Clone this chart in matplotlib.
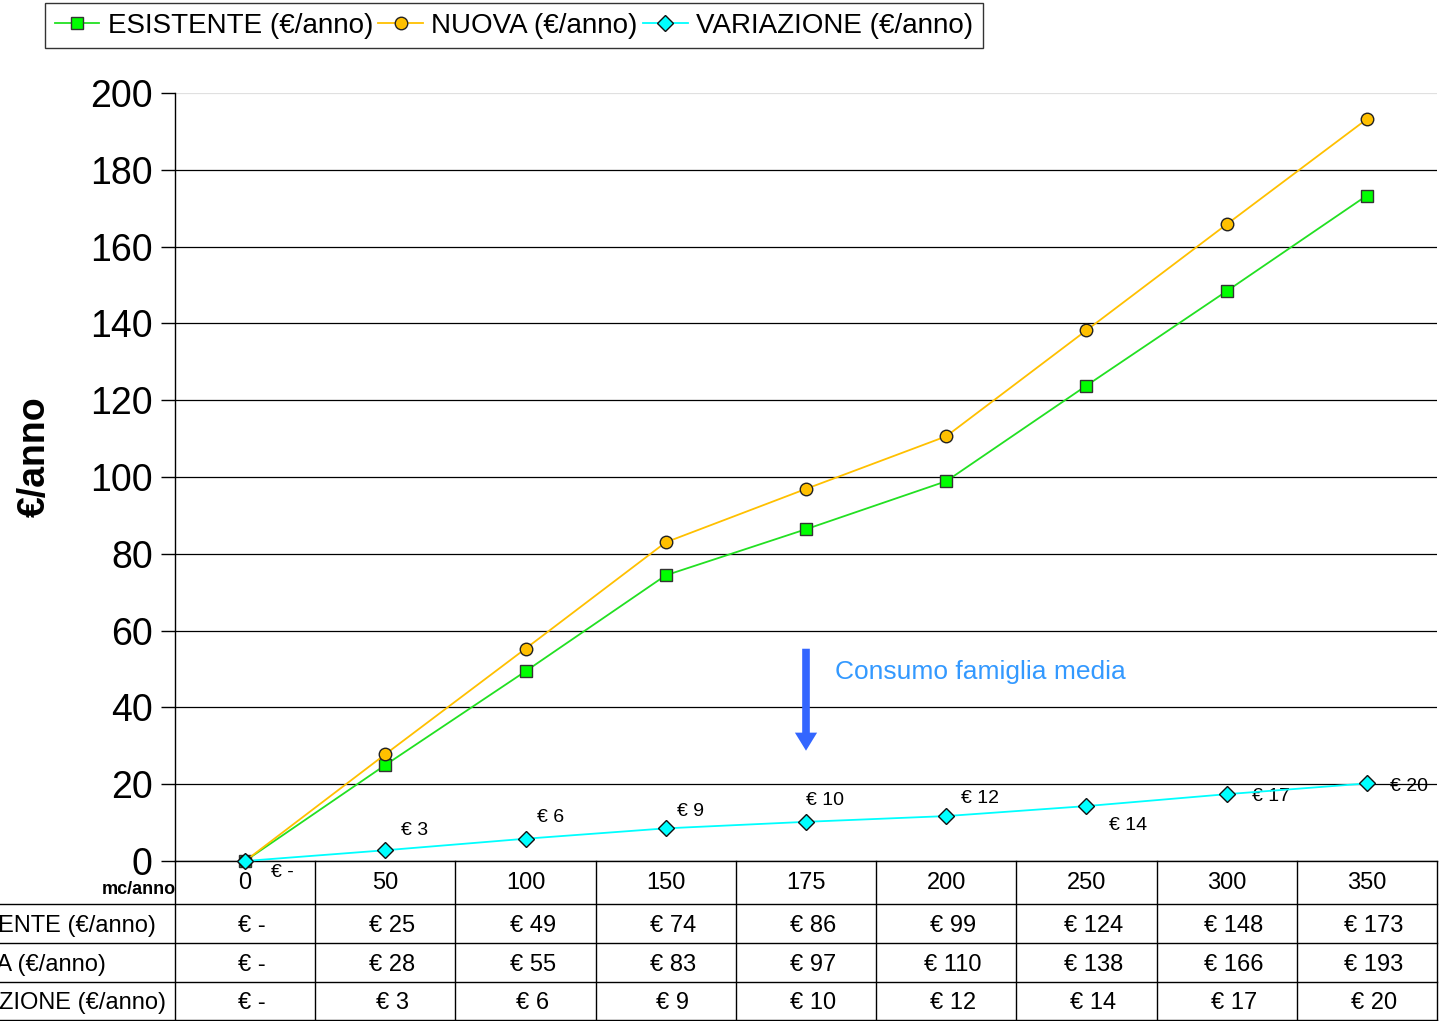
import matplotlib
matplotlib.use("Agg")
import matplotlib.pyplot as plt
from matplotlib.lines import Line2D

plt.rcParams['font.family'] = ['Liberation Sans', 'DejaVu Sans']

categories = ['0', '50', '100', '150', '175', '200', '250', '300', '350']
esistente = [0, 25.0, 49.4, 74.4, 86.4, 98.9, 123.8, 148.4, 173.3]
nuova = [0, 27.8, 55.3, 83.0, 96.9, 110.6, 138.2, 165.8, 193.2]
variazione = [0, 2.8, 5.8, 8.5, 10.2, 11.7, 14.3, 17.4, 20.2]
esistente_lbl = ['€ -', '€ 25', '€ 49', '€ 74', '€ 86', '€ 99', '€ 124', '€ 148', '€ 173']
nuova_lbl = ['€ -', '€ 28', '€ 55', '€ 83', '€ 97', '€ 110', '€ 138', '€ 166', '€ 193']
variazione_lbl = ['€ -', '€ 3', '€ 6', '€ 9', '€ 10', '€ 12', '€ 14', '€ 17', '€ 20']
row_names = ['ESISTENTE (€/anno)', 'NUOVA (€/anno)', 'VARIAZIONE (€/anno)']
yticks = [0, 20, 40, 60, 80, 100, 120, 140, 160, 180, 200]

# label offsets (points) for variation data labels
var_off = [(27, -8), (21, 14), (18, 15), (18, 12), (14, 15), (24, 12.5), (30, -14), (32, -2), (30, -2)]

W, H = 1446, 1021
fig = plt.figure(figsize=(W / 100, H / 100), dpi=100)
L, R, T, B = 175, 1437, 93, 861
ax = fig.add_axes([L / W, 1 - B / H, (R - L) / W, (B - T) / H])

x = list(range(len(categories)))
ax.set_xlim(-0.5, len(categories) - 0.5)
ax.set_ylim(0, 200)

for yv in yticks[:-1]:
    ax.axhline(yv, color='black', lw=0.9, zorder=1)
ax.axhline(200, color='#e0e0e0', lw=0.9, zorder=1)

l1, = ax.plot(x, esistente, color='#22e022', lw=1.3, marker='s', ms=8.5,
              mfc='#00ff00', mec='#333333', mew=1.0, zorder=3, label='ESISTENTE (€/anno)')
l2, = ax.plot(x, nuova, color='#ffc000', lw=1.3, marker='o', ms=9,
              mfc='#ffc000', mec='#222222', mew=1.0, zorder=3, label='NUOVA (€/anno)')
l3, = ax.plot(x, variazione, color='#00ffff', lw=1.3, marker='D', ms=8,
              mfc='#00ffff', mec='#111111', mew=1.0, zorder=4, label='VARIAZIONE (€/anno)')
for ln in (l1, l2, l3):
    ln.set_clip_on(False)

for xi, yi, t, off in zip(x, variazione, variazione_lbl, var_off):
    ax.annotate(t, (xi, yi), xytext=off, textcoords='offset points',
                ha='center', va='center', fontsize=14, annotation_clip=False)

ax.set_yticks(yticks)
ax.set_yticklabels([str(v) for v in yticks], fontsize=27)
ax.tick_params(axis='y', direction='out', length=10, width=1, pad=6)
ax.set_xticks([])
for s in ['top', 'right']:
    ax.spines[s].set_visible(False)
ax.spines['left'].set_linewidth(1)
ax.spines['bottom'].set_linewidth(1)
ax.set_ylabel('€/anno', fontsize=27, fontweight='bold')
ax.yaxis.set_label_coords(-(L - 53) / (R - L), 0.5 + 20 / (B - T))

# Arrow and annotation
ax.annotate('', xy=(4, 28), xytext=(4, 56),
            arrowprops=dict(arrowstyle='simple,head_width=1.6,head_length=1.3,tail_width=0.55',
                            color='#3366ff', lw=0))
ax.text(4.21, 49.3, 'Consumo famiglia media', color='#3399ff', fontsize=19,
        ha='left', va='center')

# Data table under the axis
ph = B - T
def yf(py):
    return -(py - B) / ph

row_lines = [904, 943, 982, 1020]
xl = -L / (R - L)
for py in row_lines:
    ax.add_line(Line2D([xl, 1.0], [yf(py), yf(py)], transform=ax.transAxes,
                       color='black', lw=1, clip_on=False))
for i in range(len(categories) + 1):
    xb = i / len(categories)
    ax.add_line(Line2D([xb, xb], [0, yf(1020)], transform=ax.transAxes,
                       color='black', lw=1, clip_on=False))

tr = ax.get_xaxis_transform()
for xi, c in zip(x, categories):
    ax.text(xi, yf(883), c, transform=tr, ha='center', va='center', fontsize=17, clip_on=False)
rows = [esistente_lbl, nuova_lbl, variazione_lbl]
row_y = [926, 965, 1003]
for labels, py in zip(rows, row_y):
    for xi, t in zip(x, labels):
        ax.text(xi + 0.05, yf(py), t, transform=tr, ha='center', va='center', fontsize=17, clip_on=False)
for name, py in zip(row_names, row_y):
    fig.text(-70 / W, 1 - py / H, name, ha='left', va='center', fontsize=17)

fig.text((L + 1) / W, 1 - 889 / H, 'mc/anno', ha='right', va='center', fontsize=13, fontweight='bold')

leg = fig.legend(handles=[l1, l2, l3], loc='upper left', bbox_to_anchor=(45 / W, 1 - 3 / H),
                 ncol=3, fontsize=20, frameon=True, fancybox=False, edgecolor='black',
                 handlelength=1.6, handletextpad=0.3, columnspacing=0.2, borderpad=0.35,
                 borderaxespad=0, markerscale=1.0)
leg.get_frame().set_linewidth(1)

fig.savefig('out.png', dpi=100)
